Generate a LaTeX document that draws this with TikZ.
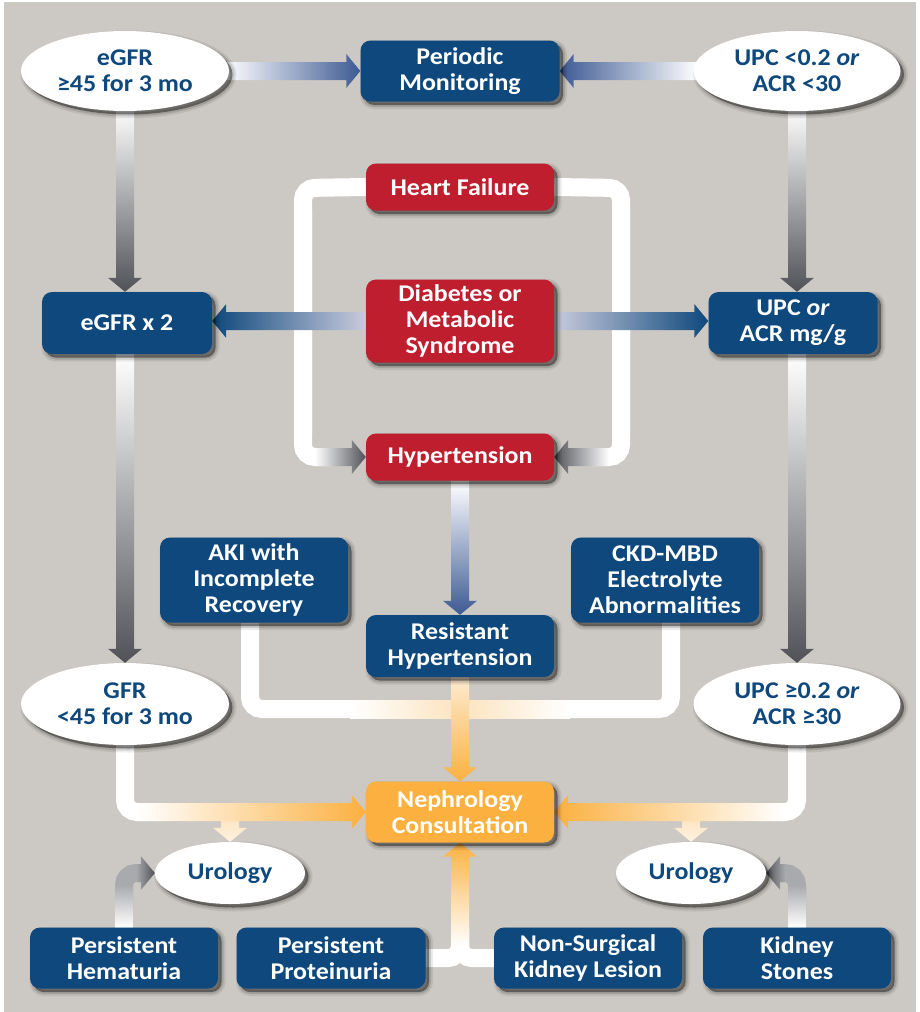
\documentclass[tikz,border=0pt]{standalone}
\usepackage{fontspec}
\setmainfont{Carlito}[FakeStretch=1.08]
\usetikzlibrary{shapes.geometric,calc,shadows}
\definecolor{bgc}{HTML}{CCC9C4}
\definecolor{navy}{HTML}{0E487C}
\definecolor{redb}{HTML}{BE1E2D}
\definecolor{orng}{HTML}{FBB040}
\definecolor{dgrey}{HTML}{505257}
\definecolor{lgrey}{HTML}{A9AAAE}
\definecolor{blu}{HTML}{3D5A93}
\definecolor{lav}{HTML}{C9CBDD}
\definecolor{peach}{HTML}{FCE3BE}
\pgfdeclarelayer{bgl}\pgfdeclarelayer{conn}\pgfsetlayers{bgl,conn,main}
\tikzset{
 txt/.style={font=\bfseries\fontsize{24}{26}\selectfont, align=center, inner sep=0pt},
 shad/.style={
   general shadow={draw=black, line width=8pt, draw opacity=0.08, fill=none, shadow xshift=3.5pt, shadow yshift=-3.5pt},
   general shadow={draw=black, line width=4pt, draw opacity=0.13, fill=none, shadow xshift=3.5pt, shadow yshift=-3.5pt},
   general shadow={fill=black, fill opacity=0.42, shadow xshift=3.5pt, shadow yshift=-3.5pt}},
 box/.style={txt, rectangle, rounded corners=10pt, minimum width=188pt, minimum height=61pt, text=white, fill=navy, shad},
 redbox/.style={box, fill=redb, minimum height=47pt},
 oval/.style={txt, ellipse, fill=white, text=navy, minimum width=208pt, minimum height=80pt, shad},
 band/.style={line width=18pt, rounded corners=12pt, draw=#1},
}
% arrows: #1 start, #2 tip, #3 shading options
\newcommand\ArrR[3]{\shade[#3] let \p1=(#1),\p2=(#2) in
 (\x1,{\y1+9pt}) -- ({\x2-14pt},{\y1+9pt}) -- ({\x2-14pt},{\y1+17pt}) -- (\x2,\y1) -- ({\x2-14pt},{\y1-17pt}) -- ({\x2-14pt},{\y1-9pt}) -- (\x1,{\y1-9pt}) -- cycle;}
\newcommand\ArrL[3]{\shade[#3] let \p1=(#1),\p2=(#2) in
 (\x1,{\y1+9pt}) -- ({\x2+14pt},{\y1+9pt}) -- ({\x2+14pt},{\y1+17pt}) -- (\x2,\y1) -- ({\x2+14pt},{\y1-17pt}) -- ({\x2+14pt},{\y1-9pt}) -- (\x1,{\y1-9pt}) -- cycle;}
\newcommand\ArrD[3]{\shade[#3] let \p1=(#1),\p2=(#2) in
 ({\x1-9pt},\y1) -- ({\x1-9pt},{\y2+14pt}) -- ({\x1-17pt},{\y2+14pt}) -- (\x1,\y2) -- ({\x1+17pt},{\y2+14pt}) -- ({\x1+9pt},{\y2+14pt}) -- ({\x1+9pt},\y1) -- cycle;}
\newcommand\ArrU[3]{\shade[#3] let \p1=(#1),\p2=(#2) in
 ({\x1-9pt},\y1) -- ({\x1-9pt},{\y2-14pt}) -- ({\x1-17pt},{\y2-14pt}) -- (\x1,\y2) -- ({\x1+17pt},{\y2-14pt}) -- ({\x1+9pt},{\y2-14pt}) -- ({\x1+9pt},\y1) -- cycle;}
\newcommand\VRect[3]{\shade[#3] let \p1=(#1),\p2=(#2) in ({\x1-9pt},\y1) rectangle ({\x1+9pt},\y2);}
\newcommand\HRect[3]{\shade[#3] let \p1=(#1),\p2=(#2) in (\x1,{\y1-9pt}) rectangle (\x2,{\y1+9pt});}
\begin{document}
\begin{tikzpicture}[x=1pt,y=-1pt]
\useasboundingbox (0,0) rectangle (920,1012);
\begin{pgfonlayer}{bgl}
\fill[white] (0,0) rectangle (920,1012);
\fill[bgc] (4,2) rectangle (916,1012);
\end{pgfonlayer}

% nodes
\node[oval] (e1) at (125,71) {eGFR\\≥45 for 3 mo};
\node[box, minimum width=199pt] (pm) at (460,71) {Periodic\\Monitoring};
\node[oval, minimum width=207pt] (e2) at (797,71) {UPC <0.2 \textit{or}\\ACR <30};
\node[redbox] (hf) at (460,187) {Heart Failure};
\node[redbox, minimum height=83pt] (dm) at (460,321) {Diabetes or\\Metabolic\\Syndrome};
\node[redbox] (ht) at (460,457) {Hypertension};
\node[box, minimum width=170pt, minimum height=62pt] (eg2) at (127,323) {eGFR x 2};
\node[box, minimum width=169pt, minimum height=62pt] (upc) at (793,323) {UPC \textit{or}\\ACR mg/g};
\node[box, minimum height=85pt] (aki) at (254,580) {AKI with\\Incomplete\\Recovery};
\node[box, minimum height=62pt] (rh) at (460,646) {Resistant\\Hypertension};
\node[box, minimum height=85pt] (ckd) at (665,580) {CKD-MBD\\Electrolyte\\Abnormalities};
\node[oval, minimum height=82pt] (e3) at (125,704) {GFR\\<45 for 3 mo};
\node[oval, minimum width=207pt, minimum height=82pt] (e4) at (797,704) {UPC ≥0.2 \textit{or}\\ACR ≥30};
\node[box, fill=orng] (nc) at (460,812) {Nephrology\\Consultation};
\node[oval, minimum width=150pt, minimum height=62pt] (u1) at (230,873) {Urology};
\node[oval, minimum width=150pt, minimum height=62pt] (u2) at (691,873) {Urology};
\node[box] (ph) at (124,958) {Persistent\\Hematuria};
\node[box, minimum width=189pt] (pp) at (331,958) {Persistent\\Proteinuria};
\node[box] (nsk) at (588,958) {Non-Surgical\\Kidney Lesion};
\node[box] (ks) at (797,958) {Kidney\\Stones};

\coordinate (hfL) at (303,188);
\coordinate (hfR) at (621,188);
\coordinate (jA) at (250,709);
\coordinate (jM) at (460,709);
\coordinate (jC) at (671,709);
\coordinate (jB) at (nc.south |- pp.east);

\begin{pgfonlayer}{conn}
% small arrows into Urology
\ArrD{u1.north |- nc.west}{u1.north}{top color=peach!95!orng, bottom color=peach!45!white}
\ArrD{u2.north |- nc.east}{u2.north}{top color=peach!95!orng, bottom color=peach!45!white}
% white bases
\draw[band=white] ($(e3.south)+(0,-5)$) -- (e3.south |- nc.west) -- ($(e3.south |- nc.west)+(40,0)$);
\draw[band=white] ($(e4.south)+(0,-5)$) -- (e4.south |- nc.east) -- ($(e4.south |- nc.east)+(-40,0)$);
\draw[band=white] (aki.south -| jA) -- (jA) -- (jM);
\draw[band=white] (ckd.south -| jC) -- (jC) -- (jM);
\draw[band=white] (pp.east) -- (jB) -- ($(jB)+(0,-30)$);
\draw[band=white] (nsk.west) -- (jB) -- ($(jB)+(0,-30)$);
\draw[band=white] (hf.west) -- (hfL) -- (hfL |- ht.west) -- ($(hfL |- ht.west)+(30,0)$);
\draw[band=white] (hf.east) -- (hfR) -- (hfR |- ht.east) -- ($(hfR |- ht.east)+(-30,0)$);
\draw[band=lgrey] (ph.north) -- (ph.north |- u1.west) -- ($(ph.north |- u1.west)+(20,0)$);
\draw[band=lgrey] (ks.north) -- (ks.north |- u2.east) -- ($(ks.north |- u2.east)+(-20,0)$);
% heart failure loops
\VRect{hfL |- hf.south}{hfL |- ht.north}{top color=white, middle color=blu, bottom color=white}
\VRect{hfR |- hf.south}{hfR |- ht.north}{top color=white, middle color=blu, bottom color=white}
\ArrR{$(hfL |- ht.west)+(12,0)$}{ht.west}{left color=white, right color=dgrey}
\ArrL{$(hfR |- ht.east)+(-12,0)$}{ht.east}{left color=dgrey, right color=white}
% top row
\ArrR{$(e1.east)+(-5,0)$}{pm.west}{left color=white, right color=blu}
\ArrL{$(e2.west)+(5,0)$}{pm.east}{left color=blu, right color=white}
\ArrD{$(e1.south)+(0,-5)$}{eg2.north}{top color=white, bottom color=dgrey}
\ArrD{$(e2.south)+(0,-5)$}{upc.north}{top color=white, bottom color=dgrey}
\ArrD{eg2.south -| e3.north}{e3.north}{top color=white, bottom color=dgrey}
\ArrD{upc.south -| e4.north}{e4.north}{top color=white, bottom color=dgrey}
% diabetes
\ArrL{dm.west}{eg2.east}{left color=navy, middle color=blu!85!lav, right color=lav}
\ArrR{dm.east}{upc.west}{left color=lav, middle color=blu!85!lav, right color=navy}
% hypertension
\ArrD{ht.south}{rh.north}{top color=white, middle color=lav, bottom color=blu}
% nephrology inputs
\HRect{$(jM)+(-110,0)$}{jM}{left color=white, right color=peach}
\HRect{jM}{$(jM)+(110,0)$}{left color=peach, right color=white}
\ArrD{rh.south}{nc.north}{top color=peach!70!white, bottom color=orng}
\ArrR{$(e3.south |- nc.west)+(12,0)$}{nc.west}{left color=white, middle color=peach, right color=orng}
\ArrL{$(e4.south |- nc.east)+(-12,0)$}{nc.east}{left color=orng, middle color=peach, right color=white}
\ArrU{$(jB)+(0,-12)$}{nc.south}{bottom color=white, top color=orng}
% urology inputs
\VRect{ph.north}{$(ph.north |- u1.west)+(0,12)$}{bottom color=white, top color=lgrey}
\ArrR{$(ph.north |- u1.west)+(12,0)$}{u1.west}{left color=lgrey, right color=dgrey}
\VRect{ks.north}{$(ks.north |- u2.east)+(0,12)$}{bottom color=white, top color=lgrey}
\ArrL{$(ks.north |- u2.east)+(-12,0)$}{u2.east}{left color=dgrey, right color=lgrey}
\end{pgfonlayer}
\end{tikzpicture}
\end{document}
